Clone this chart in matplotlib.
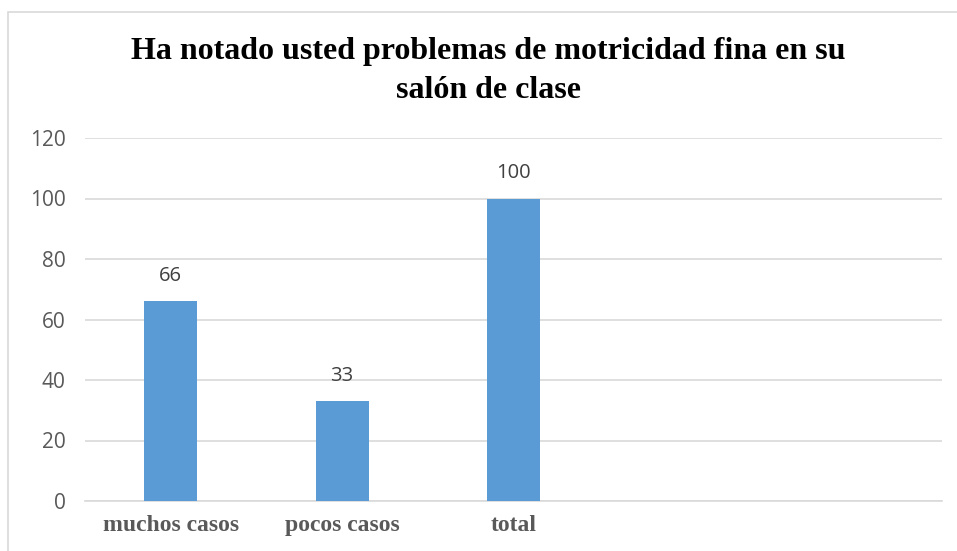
import matplotlib
matplotlib.use('Agg')
import matplotlib.pyplot as plt
from matplotlib.patches import Rectangle

# datos del grafico
categorias = ['muchos casos', 'pocos casos', 'total', '', '']
valores = [66, 33, 100, None, None]
y_ticks = [0, 20, 40, 60, 80, 100, 120]
titulo = 'Ha notado usted problemas de motricidad fina en su\nsalón de clase'

fig = plt.figure(figsize=(9.57, 5.51), dpi=100)
ax = fig.add_axes([85 / 957, 1 - 501 / 551, (942 - 85) / 957, (501 - 138) / 551])

# borde del area del grafico
fig.patches.append(Rectangle((8 / 957, -0.1), 1.1, 1 - 12 / 551 + 0.1, transform=fig.transFigure,
                             fill=False, edgecolor='#d9d9d9', linewidth=1.2))

x = list(range(len(categorias)))
alturas = [v if v is not None else 0 for v in valores]
barras = ax.bar(x, alturas, width=0.31, color='#5b9bd5', zorder=3)

for xi, v in zip(x, valores):
    if v is not None:
        ax.text(xi, v + 5, str(v), ha='center', va='bottom', fontsize=14.5,
                family='Open Sans', color='#404040')

ax.set_xlim(-0.5, len(categorias) - 0.5)
ax.set_ylim(0, 120)
ax.set_yticks(y_ticks)
ax.set_yticklabels([str(t) for t in y_ticks], fontsize=15, family='Open Sans', color='#595959')
ax.set_xticks(x)
ax.set_xticklabels(categorias, fontsize=17, family='Liberation Serif', fontweight='bold', color='#595959')
ax.tick_params(axis='both', length=0)
ax.tick_params(axis='y', pad=14)
ax.tick_params(axis='x', pad=10)

ax.grid(axis='y', color='#d9d9d9', linewidth=1.2, zorder=0)
for s in ['top', 'right', 'left']:
    ax.spines[s].set_visible(False)
ax.spines['bottom'].set_color('#d9d9d9')
ax.spines['bottom'].set_linewidth(1.2)

fig.text(488 / 957, 1 - 71 / 551, titulo, ha='center', va='center', fontsize=23,
         family='Liberation Serif', fontweight='bold', color='black', linespacing=1.48)

fig.savefig('out.png', dpi=100)
